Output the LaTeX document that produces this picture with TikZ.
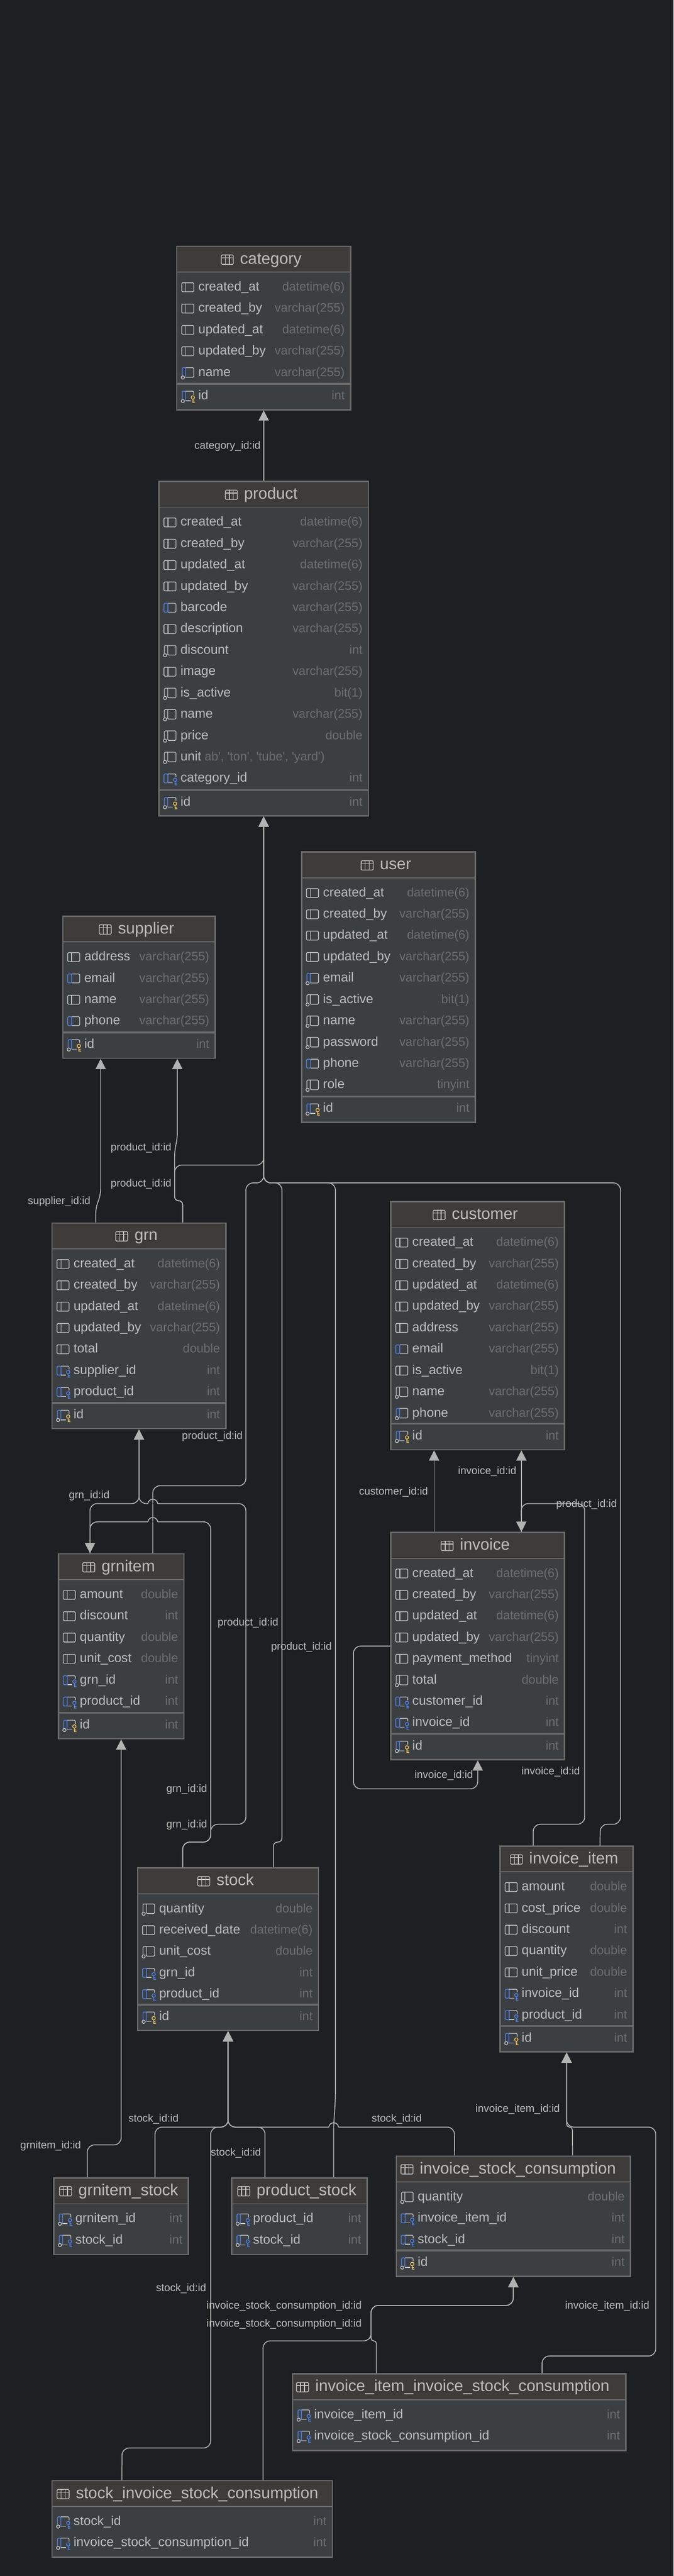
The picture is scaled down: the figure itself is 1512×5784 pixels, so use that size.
\documentclass[tikz,border=0pt]{standalone}
\usepackage{fontspec}
\setmainfont{Liberation Sans}
\usetikzlibrary{arrows.meta}

\definecolor{pagebg}{HTML}{1E1F22}
\definecolor{bodyfill}{HTML}{3C3F42}
\definecolor{headfill}{HTML}{3D3C3B}
\definecolor{frameedge}{HTML}{6B6B6B}
\definecolor{nametext}{HTML}{BDBDBD}
\definecolor{typetext}{HTML}{6C6E71}
\definecolor{connedge}{HTML}{B2B2B2}
\definecolor{iconedge}{HTML}{C6C6C6}
\definecolor{iconblue}{HTML}{4D82F0}
\definecolor{iconkey}{HTML}{F2C55C}

\tikzset{
  dbframe/.style={draw=frameedge,fill=bodyfill,line width=3pt,anchor=north west,inner sep=0pt,outer sep=0pt},
  dbtitle/.style={text=nametext,font=\fontsize{36}{36}\selectfont,inner sep=0pt,text height=30pt,text depth=11pt},
  colname/.style={text=nametext,font=\fontsize{29}{29}\selectfont,anchor=west,inner sep=0pt,text height=24pt,text depth=8pt},
  coltype/.style={text=typetext,font=\fontsize{27.7}{27.7}\selectfont,anchor=east,inner sep=0pt,text height=24pt,text depth=8pt},
  connlabel/.style={text=nametext,font=\fontsize{23.8}{23.8}\selectfont,anchor=east,inner sep=0pt},
  connline/.style={draw=connedge,line width=2pt,rounded corners=16pt,shorten <=1.5pt},
  connarrow/.style={connline,-{Triangle[width=23pt,length=23pt]},shorten >=1.5pt},
  iconline/.style={draw=iconedge,line width=1.6pt,rounded corners=2pt},
  iconbar/.style={draw=iconblue,line width=1.6pt,rounded corners=2pt},
  % table and column marks
  tablemark/.pic={
    \draw[iconline] (-27,-10.5) rectangle (0,10.5);
    \draw[iconline,sharp corners] (-27,-4) -- (0,-4) (-18,-10.5) -- (-18,10.5) (-9,-10.5) -- (-9,10.5);
  },
  colplain/.pic={
    \draw[iconline] (0,-10) rectangle (27,10);
    \draw[iconline] (9,-10) -- (9,10);
  },
  colindex/.pic={
    \draw[iconline] (9,-10) -- (27,-10) -- (27,10) -- (9,10);
    \draw[iconbar] (9,-10) -- (0,-10) -- (0,10) -- (9,10) -- cycle;
  },
  colnull/.pic={
    \draw[iconline] (1,7) -- (1,-11) -- (27,-11) -- (27,10.5) -- (8.5,10.5) -- (8.5,-11);
    \draw[iconedge,line width=1.6pt] (2.5,11) circle (3.6);
  },
  colnullindex/.pic={
    \draw[iconline] (8.5,-11) -- (27,-11) -- (27,10.5) -- (8.5,10.5);
    \draw[iconbar] (1,7) -- (1,-11) -- (8.5,-11) -- (8.5,10.5);
    \draw[iconedge,line width=1.6pt] (2.5,11) circle (3.6);
  },
  colfk/.pic={
    \draw[iconline] (9,-10) -- (27,-10) -- (27,-3);
    \draw[iconline] (9,10) -- (20,10);
    \draw[iconbar] (9,-10) -- (0,-10) -- (0,10) -- (9,10) -- cycle;
    \draw[iconbar,sharp corners] (25,3) circle (3.8) (25,6.8) -- (25,14.5) -- (30,14.5) (25,11) -- (29,11);
  },
  colnullfk/.pic={
    \draw[iconline] (8.5,-11) -- (27,-11) -- (27,-3);
    \draw[iconline] (8.5,10.5) -- (20,10.5);
    \draw[iconbar] (1,7) -- (1,-11) -- (8.5,-11) -- (8.5,10.5);
    \draw[iconedge,line width=1.6pt] (2.5,11) circle (3.6);
    \draw[iconbar,sharp corners] (25,3) circle (3.8) (25,6.8) -- (25,14.5) -- (30,14.5) (25,11) -- (29,11);
  },
  colpk/.pic={
    \draw[iconline] (8.5,-11) -- (27,-11) -- (27,-3);
    \draw[iconline] (8.5,10.5) -- (20,10.5);
    \draw[iconbar] (1,7) -- (1,-11) -- (8.5,-11) -- (8.5,10.5);
    \draw[iconedge,line width=1.6pt] (2.5,11) circle (3.6);
    \draw[draw=iconkey,line width=1.6pt] (25,3) circle (3.8) (25,6.8) -- (25,14.5) -- (30,14.5) (25,11) -- (29,11);
  },
}

% title shift, table name, top left, width, height, title
\newcommand{\dbtable}[6][16]{
  \node[dbframe,minimum width=#4pt,minimum height=#5pt] (#2) at (#3) {};
  \fill[headfill] ([shift={(1.5pt,-1.5pt)}]#2.north west) rectangle ([shift={(-1.5pt,-58pt)}]#2.north east);
  \draw[frameedge,line width=2pt] ([yshift=-58pt]#2.north west) -- ([yshift=-58pt]#2.north east);
  \node[dbtitle] (#2-title) at ([shift={(#1pt,-30pt)}]#2.north) {#6};
  \pic at ([xshift=-15pt]#2-title.west) {tablemark};
}
% table name, row, column, type, mark
\newcommand{\dbrow}[5]{
  \coordinate (#1-r#2) at ([yshift={-92pt-47.9pt*(#2-1)}]#1.north west);
  \pic at ([xshift=11pt]#1-r#2) {#5};
  \node[colname] (#1-n#2) at ([xshift=48pt]#1-r#2) {#3};
  \node[coltype] (#1-t#2) at ([xshift=-13pt]#1-r#2 -| #1.east) {#4};
}
% the id row under the thick line
\newcommand{\dbid}[1]{
  \draw[frameedge,line width=4pt] ([yshift=58pt]#1.south west) -- ([yshift=58pt]#1.south east);
  \coordinate (#1-rid) at ([yshift=30.5pt]#1.south west);
  \pic at ([xshift=11pt]#1-rid) {colpk};
  \node[colname] (#1-nid) at ([xshift=48pt]#1-rid) {id};
  \node[coltype] (#1-tid) at ([xshift=-13pt]#1-rid -| #1.east) {int};
}
% bridge of a horizontal line over a vertical one
\newcommand{\connhump}[2]{
  \fill[pagebg] (#1-11,#2-1.6) rectangle (#1+11,#2+1.6);
  \draw[connline,shorten <=0pt] (#1,#2-14) -- (#1,#2+14);
  \draw[connline,shorten <=0pt] (#1-11,#2) .. controls (#1-9,#2-13) and (#1+9,#2-13) .. (#1+11,#2);
}

\begin{document}
\begin{tikzpicture}[x=1pt,y=-1pt]
    \useasboundingbox (0,0) rectangle (1512,5784);
    \fill[pagebg] (0,0) rectangle (1512,5784);

    %category
    \dbtable{category}{397,553}{390}{367}{category}
    \dbrow{category}{1}{created\_at}{datetime(6)}{colplain}
    \dbrow{category}{2}{created\_by}{varchar(255)}{colplain}
    \dbrow{category}{3}{updated\_at}{datetime(6)}{colplain}
    \dbrow{category}{4}{updated\_by}{varchar(255)}{colplain}
    \dbrow{category}{5}{name}{varchar(255)}{colnullindex}
    \dbid{category}

    %product
    \dbtable{product}{357,1081}{470}{751}{product}
    \dbrow{product}{1}{created\_at}{datetime(6)}{colplain}
    \dbrow{product}{2}{created\_by}{varchar(255)}{colplain}
    \dbrow{product}{3}{updated\_at}{datetime(6)}{colplain}
    \dbrow{product}{4}{updated\_by}{varchar(255)}{colplain}
    \dbrow{product}{5}{barcode}{varchar(255)}{colindex}
    \dbrow{product}{6}{description}{varchar(255)}{colplain}
    \dbrow{product}{7}{discount}{int}{colnull}
    \dbrow{product}{8}{image}{varchar(255)}{colplain}
    \dbrow{product}{9}{is\_active}{bit(1)}{colnull}
    \dbrow{product}{10}{name}{varchar(255)}{colnull}
    \dbrow{product}{11}{price}{double}{colnull}
    \dbrow{product}{12}{unit}{}{colnull}
    \node[coltype] (product-enum) at (729,1700) {ab\textquotesingle, \textquotesingle ton\textquotesingle, \textquotesingle tube\textquotesingle, \textquotesingle yard\textquotesingle)};
    \dbrow{product}{13}{category\_id}{int}{colfk}
    \dbid{product}

    %supplier
    \dbtable{supplier}{141,2057}{342}{319}{supplier}
    \dbrow{supplier}{1}{address}{varchar(255)}{colplain}
    \dbrow{supplier}{2}{email}{varchar(255)}{colindex}
    \dbrow{supplier}{3}{name}{varchar(255)}{colplain}
    \dbrow{supplier}{4}{phone}{varchar(255)}{colindex}
    \dbid{supplier}

    %user
    \dbtable{user}{677,1913}{390}{607}{user}
    \dbrow{user}{1}{created\_at}{datetime(6)}{colplain}
    \dbrow{user}{2}{created\_by}{varchar(255)}{colplain}
    \dbrow{user}{3}{updated\_at}{datetime(6)}{colplain}
    \dbrow{user}{4}{updated\_by}{varchar(255)}{colplain}
    \dbrow{user}{5}{email}{varchar(255)}{colnullindex}
    \dbrow{user}{6}{is\_active}{bit(1)}{colnull}
    \dbrow{user}{7}{name}{varchar(255)}{colnull}
    \dbrow{user}{8}{password}{varchar(255)}{colnull}
    \dbrow{user}{9}{phone}{varchar(255)}{colindex}
    \dbrow{user}{10}{role}{tinyint}{colnull}
    \dbid{user}

    %grn
    \dbtable{grn}{117,2746}{390}{462}{grn}
    \dbrow{grn}{1}{created\_at}{datetime(6)}{colplain}
    \dbrow{grn}{2}{created\_by}{varchar(255)}{colplain}
    \dbrow{grn}{3}{updated\_at}{datetime(6)}{colplain}
    \dbrow{grn}{4}{updated\_by}{varchar(255)}{colplain}
    \dbrow{grn}{5}{total}{double}{colplain}
    \dbrow{grn}{6}{supplier\_id}{int}{colfk}
    \dbrow{grn}{7}{product\_id}{int}{colfk}
    \dbid{grn}

    %customer
    \dbtable{customer}{877.5,2698}{390}{557}{customer}
    \dbrow{customer}{1}{created\_at}{datetime(6)}{colplain}
    \dbrow{customer}{2}{created\_by}{varchar(255)}{colplain}
    \dbrow{customer}{3}{updated\_at}{datetime(6)}{colplain}
    \dbrow{customer}{4}{updated\_by}{varchar(255)}{colplain}
    \dbrow{customer}{5}{address}{varchar(255)}{colplain}
    \dbrow{customer}{6}{email}{varchar(255)}{colindex}
    \dbrow{customer}{7}{is\_active}{bit(1)}{colplain}
    \dbrow{customer}{8}{name}{varchar(255)}{colnull}
    \dbrow{customer}{9}{phone}{varchar(255)}{colnullindex}
    \dbid{customer}

    %invoice
    \dbtable{invoice}{877.5,3441}{390}{510}{invoice}
    \dbrow{invoice}{1}{created\_at}{datetime(6)}{colplain}
    \dbrow{invoice}{2}{created\_by}{varchar(255)}{colplain}
    \dbrow{invoice}{3}{updated\_at}{datetime(6)}{colplain}
    \dbrow{invoice}{4}{updated\_by}{varchar(255)}{colplain}
    \dbrow{invoice}{5}{payment\_method}{tinyint}{colplain}
    \dbrow{invoice}{6}{total}{double}{colnull}
    \dbrow{invoice}{7}{customer\_id}{int}{colfk}
    \dbrow{invoice}{8}{invoice\_id}{int}{colfk}
    \dbid{invoice}

    %grnitem
    \dbtable{grnitem}{131,3489}{282}{415}{grnitem}
    \dbrow{grnitem}{1}{amount}{double}{colplain}
    \dbrow{grnitem}{2}{discount}{int}{colplain}
    \dbrow{grnitem}{3}{quantity}{double}{colplain}
    \dbrow{grnitem}{4}{unit\_cost}{double}{colplain}
    \dbrow{grnitem}{5}{grn\_id}{int}{colfk}
    \dbrow{grnitem}{6}{product\_id}{int}{colfk}
    \dbid{grnitem}

    %stock
    \dbtable{stock}{309,4194}{406}{365}{stock}
    \dbrow{stock}{1}{quantity}{double}{colnull}
    \dbrow{stock}{2}{received\_date}{datetime(6)}{colplain}
    \dbrow{stock}{3}{unit\_cost}{double}{colnull}
    \dbrow{stock}{4}{grn\_id}{int}{colfk}
    \dbrow{stock}{5}{product\_id}{int}{colfk}
    \dbid{stock}

    %invoice_item
    \dbtable{invoiceitem}{1123,4145}{298}{462}{invoice\_item}
    \dbrow{invoiceitem}{1}{amount}{double}{colplain}
    \dbrow{invoiceitem}{2}{cost\_price}{double}{colplain}
    \dbrow{invoiceitem}{3}{discount}{int}{colplain}
    \dbrow{invoiceitem}{4}{quantity}{double}{colplain}
    \dbrow{invoiceitem}{5}{unit\_price}{double}{colplain}
    \dbrow{invoiceitem}{6}{invoice\_id}{int}{colfk}
    \dbrow{invoiceitem}{7}{product\_id}{int}{colfk}
    \dbid{invoiceitem}

    %grnitem_stock
    \dbtable{grnitemstock}{121,4890}{302}{172}{grnitem\_stock}
    \dbrow{grnitemstock}{1}{grnitem\_id}{int}{colnullfk}
    \dbrow{grnitemstock}{2}{stock\_id}{int}{colnullfk}

    %product_stock
    \dbtable{productstock}{520,4890}{304}{172}{product\_stock}
    \dbrow{productstock}{1}{product\_id}{int}{colnullfk}
    \dbrow{productstock}{2}{stock\_id}{int}{colnullfk}

    %invoice_stock_consumption
    \dbtable[10]{invoicestock}{889.5,4841}{526}{270}{invoice\_stock\_consumption}
    \dbrow{invoicestock}{1}{quantity}{double}{colnull}
    \dbrow{invoicestock}{2}{invoice\_item\_id}{int}{colfk}
    \dbrow{invoicestock}{3}{stock\_id}{int}{colfk}
    \dbid{invoicestock}

    %invoice_item_invoice_stock_consumption
    \dbtable[7]{itemconsumption}{657,5330}{748}{172}{invoice\_item\_invoice\_stock\_consumption}
    \dbrow{itemconsumption}{1}{invoice\_item\_id}{int}{colnullfk}
    \dbrow{itemconsumption}{2}{invoice\_stock\_consumption\_id}{int}{colnullfk}

    %stock_invoice_stock_consumption
    \dbtable[11]{stockconsumption}{117,5570}{629}{172}{stock\_invoice\_stock\_consumption}
    \dbrow{stockconsumption}{1}{stock\_id}{int}{colnullfk}
    \dbrow{stockconsumption}{2}{invoice\_stock\_consumption\_id}{int}{colnullfk}

    %to category and product
    \draw[connarrow] (product.north) -- (category.south);
    \draw[connarrow] ([xshift=71pt]grnitem.north) -- (343,3336) -- (552,3336) -- (552,2656) -- (592,2656) -- (product.south);
    \draw[connarrow] ([xshift=98pt]grn.north) [rounded corners=9pt] -- (410,2696) -- (392,2696) [rounded corners=16pt] -- (392,2616) -- (592,2616) -- (product.south);
    \draw[connarrow] ([xshift=102pt]stock.north) [rounded corners=9pt] -- (614,4136) -- (633,4136) [rounded corners=16pt] -- (633,2656) -- (592,2656) -- (product.south);
    \draw[connarrow] ([xshift=77pt]productstock.north) [rounded corners=20pt] -- (749,4770) -- (753,4715) [rounded corners=16pt] -- (753,2656) -- (592,2656) -- (product.south);
    \draw[connarrow] ([xshift=75pt]invoiceitem.north) -- (1347.5,4096) -- (1393,4096) -- (1393,2656) -- (592,2656) -- (product.south);

    %to supplier
    \draw[connarrow] ([xshift=-97pt]grn.north) [rounded corners=12pt] -- (215,2712) -- (226,2682) -- ([xshift=-86pt]supplier.south);
    \draw[connarrow] ([xshift=98pt]grn.north) [rounded corners=9pt] -- (410,2696) -- (392,2696) [rounded corners=12pt] -- (392,2584) -- (398,2556) -- ([xshift=86pt]supplier.south);

    %to grn and grnitem
    \draw[connarrow] ([xshift=-70pt]grnitem.north) -- (202,3376) -- (312,3376) -- (grn.south);
    \draw[connarrow] ([xshift=-102pt]stock.north) -- (410,4136) -- (473,4136) -- (473,4096) -- (552,4096) -- (552,3376) -- (312,3376) -- (grn.south);
    \draw[connarrow] ([xshift=-102pt]stock.north) -- (410,4136) -- (473,4136) -- (473,3417) -- (202,3417) -- ([xshift=-70pt]grnitem.north);
    \draw[connarrow] ([xshift=-76pt]grnitemstock.north) -- (196,4816) -- (272,4816) -- (grnitem.south);
    \connhump{343}{3376}
    \connhump{343}{3417}

    %to customer and invoice
    \draw[connarrow] ([xshift=-98pt]invoice.north) -- ([xshift=-98pt]customer.south);
    \draw[connarrow] ([xshift=98pt]invoice.north) -- ([xshift=98pt]customer.south);
    \draw[connarrow] ([xshift=-75pt]invoiceitem.north) -- (1197,4096) -- (1312.5,4096) -- (1312.5,3376) -- (1170,3376) -- ([xshift=98pt]invoice.north);
    \draw[connarrow] (invoice.west) -- (793.5,3696) -- (793.5,4016.5) -- (1072.5,4016.5) -- (invoice.south);

    %to stock
    \draw[connarrow] ([xshift=76pt]grnitemstock.north) -- (348,4776) -- (512,4776) -- (stock.south);
    \draw[connarrow] ([xshift=-158pt]stockconsumption.north) -- (274,5496.5) -- (473,5496.5) -- (473,4776) -- (512,4776) -- (stock.south);
    \draw[connarrow] ([xshift=-77pt]productstock.north) -- (595,4776) -- (512,4776) -- (stock.south);
    \draw[connarrow] ([xshift=-132pt]invoicestock.north) -- (1020,4776) -- (512,4776) -- (stock.south);
    \connhump{749}{4776}

    %to invoice_item and invoice_stock_consumption
    \draw[connarrow] ([xshift=133pt]invoicestock.north) [rounded corners=6.5pt] -- (1285,4776) -- (1272,4776) [rounded corners=16pt] -- (invoiceitem.south);
    \draw[connarrow] ([xshift=186pt]itemconsumption.north) -- (1217,5290) -- (1472,5290) -- (1472,4776) -- (1272,4776) -- (invoiceitem.south);
    \draw[connarrow] ([xshift=-186pt]itemconsumption.north) [rounded corners=6pt] -- (845,5256) -- (833,5256) [rounded corners=16pt] -- (833,5176.5) -- (1152,5176.5) -- (invoicestock.south);
    \draw[connarrow] ([xshift=159pt]stockconsumption.north) -- (590.5,5256) -- (833,5256) -- (833,5176.5) -- (1152,5176.5) -- (invoicestock.south);

    %labels
    \node[connlabel] (lab-category) at (585,1002) {category\_id:id};
    \node[connlabel] (lab-supplier-a) at (385,2577) {product\_id:id};
    \node[connlabel] (lab-product-a) at (385,2658) {product\_id:id};
    \node[connlabel] (lab-supplier-b) at (203,2698) {supplier\_id:id};
    \node[connlabel] (lab-product-b) at (545,3225) {product\_id:id};
    \node[connlabel] (lab-grn-a) at (246,3358) {grn\_id:id};
    \node[connlabel] (lab-customer) at (961,3350) {customer\_id:id};
    \node[connlabel] (lab-invoice-a) at (1159.5,3304) {invoice\_id:id};
    \node[connlabel] (lab-product-c) at (1385,3378) {product\_id:id};
    \node[connlabel] (lab-product-d) at (625,3644) {product\_id:id};
    \node[connlabel] (lab-product-e) at (745,3698) {product\_id:id};
    \node[connlabel] (lab-grn-b) at (465,4018) {grn\_id:id};
    \node[connlabel] (lab-grn-c) at (465,4098) {grn\_id:id};
    \node[connlabel] (lab-invoice-b) at (1062,3986) {invoice\_id:id};
    \node[connlabel] (lab-invoice-c) at (1302,3978) {invoice\_id:id};
    \node[connlabel] (lab-stock-a) at (401,4758) {stock\_id:id};
    \node[connlabel] (lab-stock-b) at (586,4834) {stock\_id:id};
    \node[connlabel] (lab-stock-c) at (947,4758) {stock\_id:id};
    \node[connlabel] (lab-grnitem) at (182,4818) {grnitem\_id:id};
    \node[connlabel] (lab-item-a) at (1257,4736) {invoice\_item\_id:id};
    \node[connlabel] (lab-stock-d) at (463,5138) {stock\_id:id};
    \node[connlabel] (lab-consumption-a) at (812,5178) {invoice\_stock\_consumption\_id:id};
    \node[connlabel] (lab-consumption-b) at (812,5218) {invoice\_stock\_consumption\_id:id};
    \node[connlabel] (lab-item-b) at (1458,5178) {invoice\_item\_id:id};
\end{tikzpicture}
\end{document}
